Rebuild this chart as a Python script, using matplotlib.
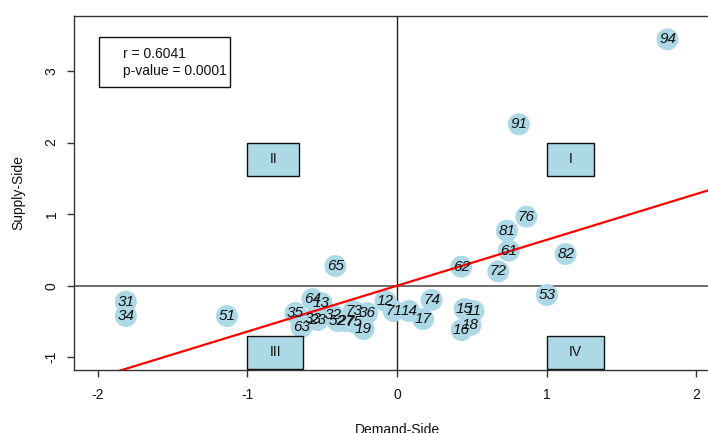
import matplotlib
matplotlib.use("Agg")
import matplotlib.pyplot as plt
from matplotlib.patches import Rectangle
import numpy as np

plt.rcParams['font.family'] = ['Liberation Sans', 'DejaVu Sans']

# ---- data ----
ids = ['94', '91', '76', '81', '61', '82', '62', '72', '65', '53', '74', '12',
       '71', '14', '17', '15', '11', '18', '16', '31', '34', '51', '64', '13',
       '35', '63', '33', '23', '32', '52', '73', '27', '75', '36', '19']
demand = [1.809, 0.815, 0.865, 0.735, 0.748, 1.128, 0.430, 0.677, -0.412, 1.003,
          0.231, -0.077, -0.023, 0.080, 0.174, 0.452, 0.512, 0.492, 0.432,
          -1.813, -1.813, -1.137, -0.566, -0.505, -0.679, -0.639, -0.559,
          -0.532, -0.430, -0.398, -0.291, -0.345, -0.291, -0.200, -0.224]
supply = [3.441, 2.254, 0.964, 0.768, 0.489, 0.443, 0.265, 0.201, 0.275, -0.130,
          -0.200, -0.214, -0.353, -0.353, -0.465, -0.325, -0.353, -0.549, -0.619,
          -0.223, -0.423, -0.423, -0.186, -0.242, -0.382, -0.577, -0.465,
          -0.479, -0.409, -0.493, -0.354, -0.493, -0.508, -0.382, -0.605]
reg_intercept = 0.0
reg_slope = 0.64
r_value = 0.6041
p_value = 0.0001
quad_labels = ['I', 'II', 'III', 'IV']
quad_x = [1.0, -1.0, -1.0, 1.0]
quad_y = [2.0, 2.0, -0.7, -0.7]
xticks = [-2, -1, 0, 1, 2]
yticks = [-1, 0, 1, 2, 3]

W, H = 708, 433
fig = plt.figure(figsize=(W / 100, H / 100), dpi=100)
ax_l, ax_r, ax_t, ax_b = 74, 720, 16, 370
ax = fig.add_axes([ax_l / W, 1 - ax_b / H, (ax_r - ax_l) / W, (ax_b - ax_t) / H])
ax.set_xlim(-2.16, 2.16)
ax.set_ylim(-1.177, 3.767)

# quadrant lines
ax.axvline(0, color='#222222', lw=1.0, zorder=1)
ax.axhline(0, color='#555555', lw=1.2, zorder=1)

# points
ax.scatter(demand, supply, s=250, color='#ADD8E6', edgecolors='none', zorder=2)

# regression line
xx = np.array([-2.16, 2.16])
ax.plot(xx, reg_intercept + reg_slope * xx, color='red', lw=1.6, zorder=3)

for lab, x, y in zip(ids, demand, supply):
    ax.text(x, y, lab, ha='center', va='center', fontsize=11, style='italic',
            color='#111111', zorder=4)

# quadrant label boxes
fig.canvas.draw()
renderer = fig.canvas.get_renderer()
ppx = (ax_r - ax_l) / (2.16 * 2)   # pixels per x unit
ppy = (ax_b - ax_t) / (3.767 + 1.177)
for lab, x0, y0 in zip(quad_labels, quad_x, quad_y):
    t = ax.text(0, 0, lab, fontsize=10, color='#111111')
    tw = t.get_window_extent(renderer).width
    t.remove()
    w = (tw + 44) / ppx
    h = 33 / ppy
    ax.add_patch(Rectangle((x0, y0 - h), w, h, facecolor='#ADD8E6',
                           edgecolor='#111111', lw=1.0, zorder=5, clip_on=True))
    ax.text(x0 + w / 2, y0 - h / 2, lab, ha='center', va='center', fontsize=10,
            color='#111111', zorder=6)

# r / p box
bx0, bx1, by0, by1 = 98.7, 230.3, 37, 86.7
ax.add_patch(Rectangle(((bx0 - ax_l) / ppx - 2.16, 3.767 - (by1 - ax_t) / ppy),
                       (bx1 - bx0) / ppx, (by1 - by0) / ppy,
                       facecolor='white', edgecolor='#111111', lw=1.0, zorder=5))
ax.text((123 - ax_l) / ppx - 2.16, 3.767 - (54 - ax_t) / ppy, f"r = {r_value:.4f}",
        ha='left', va='center', fontsize=10, color='#111111', zorder=6)
ax.text((123 - ax_l) / ppx - 2.16, 3.767 - (71 - ax_t) / ppy, f"p-value = {p_value:.4f}",
        ha='left', va='center', fontsize=10, color='#111111', zorder=6)

# axes styling
for s in ax.spines.values():
    s.set_color('#333333')
    s.set_linewidth(1.0)
ax.set_xticks(xticks)
ax.set_yticks(yticks)
ax.set_xticklabels([str(v) for v in xticks])
ax.set_yticklabels([str(v) for v in yticks])
ax.tick_params(axis='both', direction='out', length=5, width=1, color='#333333',
               labelsize=10, labelcolor='#111111')
ax.tick_params(axis='x', pad=8)
ax.tick_params(axis='y', pad=6, labelrotation=90)
for lbl in ax.get_yticklabels():
    lbl.set_va('center')

fig.text(397 / W, 1 - 430 / H, 'Demand-Side', ha='center', va='center', fontsize=10,
         color='#111111')
fig.text(18 / W, 1 - 193 / H, 'Supply-Side', ha='center', va='center', fontsize=10,
         rotation=90, color='#111111')

fig.savefig('out.png', dpi=100)
